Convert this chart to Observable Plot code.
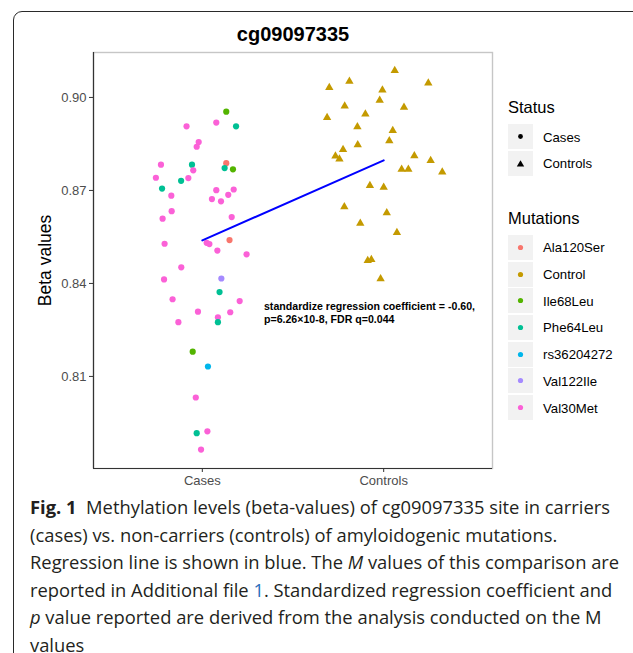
<!DOCTYPE html>
<html>
<head>
<meta charset="utf-8">
<script src="https://cdn.jsdelivr.net/npm/d3@7"></script>
<script src="https://cdn.jsdelivr.net/npm/@observablehq/plot@0.6"></script>
<style>
  html, body { margin: 0; padding: 0; background: #fff; }
  body { width: 633px; height: 653px; overflow: hidden; position: relative; font-family: "Liberation Sans", Arial, sans-serif; }
  #box { position: absolute; left: 13px; top: 11px; width: 700px; height: 720px; border: 1.3px solid #2a2a2a; border-radius: 9px; box-sizing: border-box; }
  #chart { position: absolute; left: 0; top: 0; }
  .legend { position: absolute; left: 508px; font-family: "Liberation Sans", Arial, sans-serif; color: #000; }
  .ltitle { position: absolute; left: 0; font-size: 16.5px; white-space: nowrap; transform: translateY(-50%); }
  .lkey { position: absolute; left: 0; width: 25px; height: 25px; background: #f2f2f2; }
  .llab { position: absolute; left: 35px; font-size: 13.2px; white-space: nowrap; transform: translateY(-50%); }
  #caption { position: absolute; left: 30px; top: 493px; font-family: "Open Sans", "Noto Sans", sans-serif; font-size: 18.5px; line-height: 27.6px; color: #231f20; transform-origin: 0 0; white-space: nowrap; }
  #caption b { font-weight: 700; }
  #caption .blue { color: #2a6ebb; }
</style>
</head>
<body>
<div id="box"></div>
<div id="chart"></div>
<div id="legend"></div>
<div id="caption"></div>
<script>
// ---------- data ----------
const groups = ["Cases", "Controls"];
const mutations = ["Ala120Ser", "Control", "Ile68Leu", "Phe64Leu", "rs36204272", "Val122Ile", "Val30Met"];
const mutationColors = ["#F8766D", "#C49A00", "#53B400", "#00C094", "#00B6EB", "#A58AFF", "#FB61D7"];
const statusLabels = ["Cases", "Controls"];
const yTicks = [0.81, 0.84, 0.87, 0.90];

// Cases (jittered x position around 1, beta value, mutation)
const casesX = [1.132,1.077,1.186,0.913,0.980,0.969,0.772,0.943,1.132,1.123,1.169,0.950,0.744,0.923,0.883,0.778,1.077,1.173,0.829,1.143,1.053,1.103,0.831,1.162,0.781,0.792,1.024,1.039,1.150,1.083,1.244,0.884,0.789,1.105,1.095,0.836,1.206,0.976,1.154,1.086,1.086,0.868,0.947,1.031,0.964,0.969,1.028,0.993];
const casesY = [0.8954,0.8919,0.8907,0.8907,0.8856,0.8841,0.8783,0.8783,0.8788,0.8772,0.8768,0.8765,0.8741,0.8740,0.8731,0.8706,0.8701,0.8703,0.8683,0.8686,0.8672,0.8665,0.8633,0.8614,0.8609,0.8528,0.8531,0.8527,0.8540,0.8506,0.8494,0.8452,0.8413,0.8416,0.8372,0.8349,0.8343,0.8309,0.8307,0.8291,0.8275,0.8275,0.8180,0.8132,0.8032,0.7917,0.7923,0.7864];
const casesMutation = ["Ile68Leu","Val30Met","Phe64Leu","Val30Met","Val30Met","Val30Met","Val30Met","Phe64Leu","Ala120Ser","Phe64Leu","Ile68Leu","Val30Met","Val30Met","Val30Met","Phe64Leu","Phe64Leu","Val30Met","Val30Met","Val30Met","Val30Met","Val30Met","Val30Met","Val30Met","Val30Met","Val30Met","Val30Met","Val30Met","Val30Met","Ala120Ser","Val30Met","Val30Met","Val30Met","Val30Met","Val122Ile","Phe64Leu","Val30Met","Val30Met","Val30Met","Val30Met","Val30Met","Phe64Leu","Val30Met","Ile68Leu","rs36204272","Val30Met","Phe64Leu","Val30Met","Val30Met"];

// Controls (jittered x position around 2, beta value)
const controlsX = [2.061,1.811,1.700,2.246,1.993,1.978,1.785,2.112,1.688,1.899,1.855,2.050,2.031,1.857,1.776,1.734,1.756,2.169,2.259,2.099,2.136,2.323,1.924,2.000,1.783,2.017,1.871,2.073,1.912,1.932,1.983];
const controlsY = [0.9087,0.9052,0.9032,0.9046,0.9024,0.8991,0.8972,0.8968,0.8935,0.8946,0.8905,0.8893,0.8860,0.8847,0.8832,0.8811,0.8801,0.8812,0.8796,0.8768,0.8768,0.8759,0.8716,0.8710,0.8647,0.8628,0.8594,0.8564,0.8474,0.8477,0.8415];

// Regression line (fitted values at Cases / Controls)
const lineX = [1, 2];
const lineY = [0.8539, 0.8797];

const annotationLines = ["standardize regression coefficient = -0.60,", "p=6.26\u00d710-8, FDR q=0.044"];
const annotationX = 1.34;
const annotationY = [0.8326, 0.8283];

const chartTitle = "cg09097335";
const yLabel = "Beta values";

// ---------- build tables ----------
const cases = casesX.map((x, i) => ({x, y: casesY[i], mutation: casesMutation[i]}));
const controls = controlsX.map((x, i) => ({x, y: controlsY[i], mutation: "Control"}));
const regLine = lineX.map((x, i) => ({x, y: lineY[i]}));
const annot = annotationLines.map((t, i) => ({x: annotationX, y: annotationY[i], t}));

const xDomain = [0.4, 2.6];
const yDomain = [0.7803, 0.9145];

const plot = Plot.plot({
  width: 633,
  height: 500,
  marginLeft: 93,
  marginRight: 141,
  marginTop: 52,
  marginBottom: 32,
  style: {fontFamily: "'Liberation Sans', Arial, sans-serif", background: "transparent", overflow: "visible"},
  x: {domain: xDomain, axis: null},
  y: {domain: yDomain, axis: null},
  color: {domain: mutations, range: mutationColors},
  marks: [
    Plot.frame({stroke: "#c6c6c6", strokeWidth: 1.4}),
    Plot.ruleX([xDomain[0]], {stroke: "#333", strokeWidth: 1.2}),
    Plot.ruleY([yDomain[0]], {stroke: "#333", strokeWidth: 1.2}),
    Plot.axisY({ticks: yTicks, tickFormat: d3.format(".2f"), tickSize: 4, tickPadding: 3, fontSize: 13, stroke: "#333", fill: "#4d4d4d", label: null}),
    Plot.axisX({ticks: [1, 2], tickFormat: d => groups[d - 1], tickSize: 4, tickPadding: 3, fontSize: 13, stroke: "#333", fill: "#4d4d4d", label: null}),
    Plot.dot(cases, {x: "x", y: "y", fill: "mutation", r: 3.1, symbol: "circle"}),
    Plot.dot(controls, {x: "x", y: "y", fill: "mutation", r: 3.1, symbol: "triangle"}),
    Plot.line(regLine, {x: "x", y: "y", stroke: "#0000ff", strokeWidth: 2}),
    Plot.text(annot, {x: "x", y: "y", text: "t", textAnchor: "start", fontWeight: "bold", fontSize: 10.6, fill: "#000"}),
    Plot.text([chartTitle], {frameAnchor: "top", dy: -18, lineAnchor: "middle", textAnchor: "middle", fontWeight: "bold", fontSize: 20, fill: "#000"}),
    Plot.text([yLabel], {frameAnchor: "left", dx: -48, rotate: -90, textAnchor: "middle", lineAnchor: "middle", fontSize: 17.5, fill: "#000"})
  ]
});
document.getElementById("chart").appendChild(plot);

// ---------- legend ----------
const legend = document.getElementById("legend");
const keyStep = 26.7;
function addTitle(text, cy) {
  const d = document.createElement("div");
  d.className = "legend";
  d.style.top = cy + "px";
  d.innerHTML = `<div class="ltitle">${text}</div>`;
  legend.appendChild(d);
}
function addItem(label, cy, symbolSvg) {
  const d = document.createElement("div");
  d.className = "legend";
  d.style.top = cy + "px";
  d.innerHTML = `<div class="lkey" style="top:-12.5px">${symbolSvg}</div><div class="llab">${label}</div>`;
  legend.appendChild(d);
}
addTitle("Status", 107.3);
statusLabels.forEach((s, i) => {
  const sym = i === 0
    ? `<svg width="25" height="25"><circle cx="12.5" cy="12.5" r="2.4" fill="#000"/></svg>`
    : `<svg width="25" height="25"><path d="M12.5,9.2L16.2,15.4L8.8,15.4Z" fill="#000"/></svg>`;
  addItem(s, 136.7 + i * keyStep, sym);
});
addTitle("Mutations", 217.7);
mutations.forEach((m, i) => {
  const sym = `<svg width="25" height="25"><circle cx="12.5" cy="12.5" r="2.6" fill="${mutationColors[i]}"/></svg>`;
  addItem(m, 247.3 + i * keyStep, sym);
});

// ---------- caption ----------
const captionLines = [
  `<b>Fig. 1</b>&nbsp;&nbsp;Methylation levels (beta-values) of cg09097335 site in carriers`,
  `(cases) vs. non-carriers (controls) of amyloidogenic mutations.`,
  `Regression line is shown in blue. The <i>M</i> values of this comparison are`,
  `reported in Additional file <span class="blue">1</span>. Standardized regression coefficient and`,
  `<i>p</i> value reported are derived from the analysis conducted on the M`,
  `values`
];
const cap = document.getElementById("caption");
cap.innerHTML = captionLines.map(l => `<div><span>${l}</span></div>`).join("");
const w0 = cap.querySelector("span").getBoundingClientRect().width;
cap.style.transform = `scaleX(${580 / w0})`;
</script>
</body>
</html>
